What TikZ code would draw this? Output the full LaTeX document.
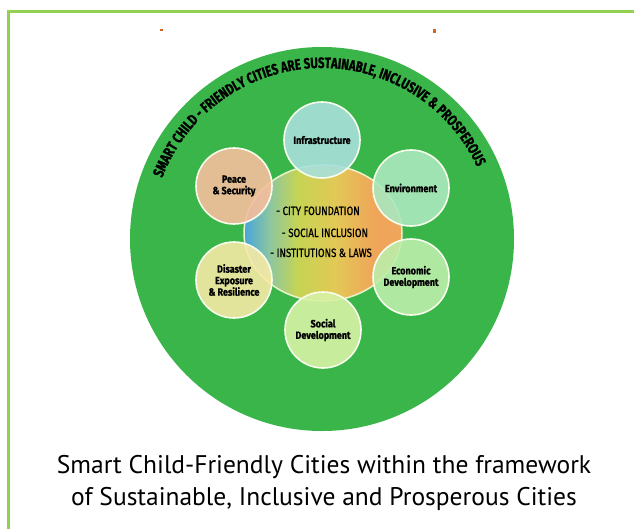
\documentclass[tikz,border=0pt]{standalone}
\usepackage{fontspec}
\setmainfont{PT Sans}
\newfontfamily\labelfont[FakeStretch=0.86,FakeBold=1.2]{Fira Sans Bold}
\newfontfamily\ringfont[FakeStretch=0.76,FakeBold=1]{Fira Sans Bold}
\newfontfamily\pillarfont[FakeStretch=0.8,FakeBold=0.8]{Fira Sans}
\usepackage{tikz}
\usetikzlibrary{shapes.geometric,decorations.text}
\definecolor{sgframe}{RGB}{146,208,80}
\definecolor{sggreen}{RGB}{58,181,74}
\definecolor{sgcyan}{RGB}{168,224,220}
\definecolor{sgmint}{RGB}{170,232,190}
\definecolor{sglime}{RGB}{188,238,170}
\definecolor{sgpale}{RGB}{214,242,165}
\definecolor{sgcream}{RGB}{246,234,165}
\definecolor{sgpeach}{RGB}{246,190,156}
\definecolor{sgblue}{RGB}{70,165,220}
\definecolor{sgteal}{RGB}{140,198,160}
\definecolor{sgyellow}{RGB}{198,212,84}
\definecolor{sggold}{RGB}{226,200,86}
\definecolor{sgorange}{RGB}{240,166,90}
\definecolor{sgdot}{RGB}{214,96,30}
\pgfdeclarehorizontalshading{hubshade}{100bp}{color(0bp)=(sgblue); color(25bp)=(sgblue); color(33bp)=(sgteal); color(42bp)=(sgyellow); color(54bp)=(sggold); color(66bp)=(sgorange); color(75bp)=(sgorange); color(100bp)=(sgorange)}
\tikzstyle{topic} = [circle,draw=white!80!sgpale,line width=1.6pt,minimum size=76pt,inner sep=0pt,align=center,fill opacity=0.9,text opacity=1,font=\labelfont\fontsize{10.5}{11.5}\selectfont,text=black]
\tikzstyle{pillar} = [anchor=base,font=\pillarfont\fontsize{12}{13}\selectfont,text=black]
\tikzstyle{caption} = [anchor=base,font=\fontsize{25.5}{30}\selectfont,text=black]

\begin{document}
\begin{tikzpicture}[x=1pt,y=-1pt]
\clip (0,0) rectangle (634,528);
\fill[white] (0,0) rectangle (634,528);
% Frame and marks
\draw[sgframe,line width=3pt] (8.5,11.5) rectangle (650,545);
\fill[sgdot] (160,29) rectangle (163,31);
\fill[sgdot] (433,29) rectangle (436,33);

% Big circle
\node[circle,fill=sggreen,minimum size=384pt,inner sep=0pt] (city) at (322,239) {};
\path[decorate,decoration={text along path,text align=center,
  text={|\ringfont\fontsize{15}{15}\selectfont|SMART CHILD - FRIENDLY CITIES ARE SUSTAINABLE, INCLUSIVE {\&} PROSPEROUS}}]
  ([shift={(162:171pt)}]city.center) arc[start angle=162,end angle=22,radius=171pt];

% Hub
\node[ellipse,minimum width=158pt,minimum height=136pt,draw=white!70!sgyellow,line width=1.5pt,
  shading=hubshade] (hub) at (323,233) {};

% Topics
\node[topic,fill=sgcyan] (infra) at (322,140) {Infrastructure};
\node[topic,fill=sgmint] (envir) at (411,188) {Environment};
\node[topic,fill=sglime] (econ) at (411,277) {Economic\\Development};
\node[topic,fill=sgpale] (social) at (323,330) {Social\\Development};
\node[topic,fill=sgcream] (disaster) at (234,280) {Disaster\\Exposure\\\& Resilience};
\node[topic,fill=sgpeach] (peace) at (234,186) {Peace\\\& Security};

% Pillars
\node[pillar] (foundation) at (318,215) {- CITY FOUNDATION};
\node[pillar] (inclusion) at (325,237) {- SOCIAL INCLUSION};
\node[pillar] (laws) at (321,257) {- INSTITUTIONS \& LAWS};

% Caption
\node[caption] (capline1) at (324,473) {Smart Child-Friendly Cities within the framework};
\node[caption] (capline2) at (324,505) {of Sustainable, Inclusive and Prosperous Cities};
\end{tikzpicture}
\end{document}
